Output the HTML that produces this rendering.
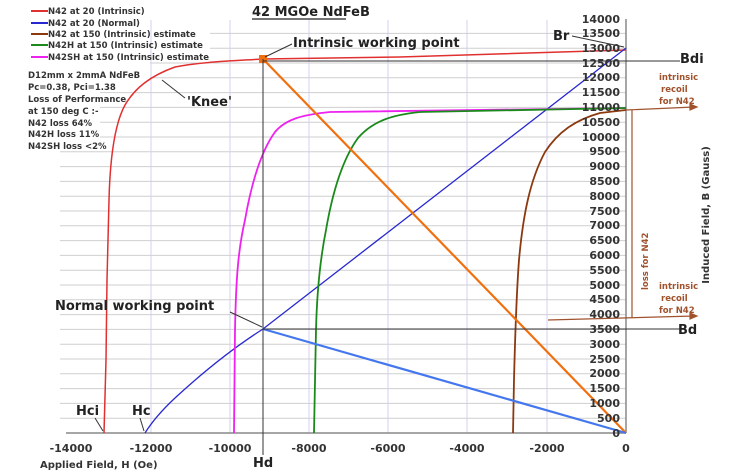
<!DOCTYPE html>
<html><head><meta charset="utf-8"><style>
body{margin:0;background:#fff}
svg{display:block;font-family:"Liberation Sans",sans-serif}
.t{font-family:Verdana,"DejaVu Sans",sans-serif;font-weight:bold}
</style></head><body>
<svg width="733" height="475" viewBox="0 0 733 475" xmlns="http://www.w3.org/2000/svg">
<g stroke="#cfcfcf" stroke-width="1">
<line x1="60" y1="418.2" x2="626" y2="418.2"/><line x1="60" y1="403.4" x2="626" y2="403.4"/><line x1="60" y1="388.6" x2="626" y2="388.6"/><line x1="60" y1="373.8" x2="626" y2="373.8"/><line x1="60" y1="359" x2="626" y2="359"/><line x1="60" y1="344.2" x2="626" y2="344.2"/><line x1="60" y1="329.4" x2="626" y2="329.4"/><line x1="60" y1="314.6" x2="626" y2="314.6"/><line x1="60" y1="299.8" x2="626" y2="299.8"/><line x1="60" y1="285" x2="626" y2="285"/><line x1="60" y1="270.2" x2="626" y2="270.2"/><line x1="60" y1="255.4" x2="626" y2="255.4"/><line x1="60" y1="240.6" x2="626" y2="240.6"/><line x1="60" y1="225.8" x2="626" y2="225.8"/><line x1="60" y1="211" x2="626" y2="211"/><line x1="60" y1="196.2" x2="626" y2="196.2"/><line x1="60" y1="181.4" x2="626" y2="181.4"/><line x1="60" y1="166.6" x2="626" y2="166.6"/><line x1="60" y1="151.8" x2="626" y2="151.8"/><line x1="100" y1="137" x2="626" y2="137"/><line x1="100" y1="122.2" x2="626" y2="122.2"/><line x1="100" y1="107.4" x2="626" y2="107.4"/><line x1="100" y1="92.6" x2="626" y2="92.6"/><line x1="150" y1="77.8" x2="626" y2="77.8"/><line x1="150" y1="63" x2="626" y2="63"/><line x1="210" y1="48.2" x2="626" y2="48.2"/><line x1="210" y1="33.4" x2="626" y2="33.4"/>
</g>
<g stroke="#d4d0f0" stroke-width="1">
<line x1="151" y1="20" x2="151" y2="433"/><line x1="230" y1="20" x2="230" y2="433"/><line x1="309" y1="20" x2="309" y2="433"/><line x1="388" y1="20" x2="388" y2="433"/><line x1="467" y1="20" x2="467" y2="433"/><line x1="547" y1="20" x2="547" y2="433"/>
</g>
<line x1="66" y1="433" x2="626" y2="433" stroke="#888" stroke-width="1.5"/>
<line x1="626" y1="19" x2="626" y2="433" stroke="#888" stroke-width="1.5"/>
<path d="M104,433 L106,360 L107,280 L109,200 C110,160 114,125 125,105 C135,88 150,76 175,67 C200,62 230,61 263,59 L400,57 L626,50" fill="none" stroke="#e03030" stroke-width="1.5"/>
<path d="M145,433 C150,425 160,412 175,398 C200,375 230,350 263,329 L626,48" fill="none" stroke="#2828d0" stroke-width="1.3"/>
<path d="M234,433 L235,330 C236,280 238,250 245,220 C252,180 262,150 275,132 C285,120 300,115 330,112 L626,108" fill="none" stroke="#ee22ee" stroke-width="1.8"/>
<path d="M314,433 L316,330 C317,290 320,260 326,230 C332,195 342,160 358,138 C372,122 390,115 420,112 L626,108" fill="none" stroke="#1a8a1a" stroke-width="1.8"/>
<path d="M513,433 L514,380 C515,340 516,300 519,260 C523,215 530,180 545,152 C558,132 575,120 600,113 L626,110" fill="none" stroke="#8b3a10" stroke-width="1.8"/>
<line x1="626" y1="433" x2="263" y2="59" stroke="#f07010" stroke-width="2.2"/>
<line x1="263" y1="329" x2="626" y2="433" stroke="#4477ee" stroke-width="2.2"/>
<rect x="259" y="55" width="8" height="8" fill="#f07010"/>
<line x1="263" y1="59" x2="263" y2="433" stroke="#333" stroke-width="1"/>
<line x1="263" y1="329" x2="680" y2="329" stroke="#333" stroke-width="1"/>
<line x1="263" y1="61" x2="680" y2="61" stroke="#333" stroke-width="1"/>
<line x1="263" y1="433" x2="263" y2="455" stroke="#333"/>
<g stroke="#a0522d" stroke-width="1.2" fill="#a0522d">
<line x1="626" y1="110" x2="694" y2="107"/><polygon points="697,107 690,104 690,110"/>
<line x1="632" y1="110" x2="632" y2="318"/>
<line x1="548" y1="320" x2="694" y2="316"/><polygon points="697,316 690,313 690,319"/>
</g>
<g fill="#a0522d" font-size="8.5" class="t" font-weight="bold">
<text x="659" y="80">intrinsic</text><text x="661" y="92">recoil</text><text x="659" y="104">for N42</text>
<text x="659" y="289">intrinsic</text><text x="661" y="301">recoil</text><text x="659" y="313">for N42</text>
<text transform="translate(648,290) rotate(-90)">loss for N42</text>
</g>
<g stroke="#333" stroke-width="1" fill="none">
<line x1="572" y1="36" x2="624" y2="47"/><line x1="265" y1="57" x2="292" y2="44"/>
<line x1="262" y1="327" x2="230" y2="312"/><line x1="95" y1="418" x2="103" y2="431"/><line x1="140" y1="418" x2="144" y2="431"/>
<line x1="162" y1="80" x2="185" y2="98"/>
</g>
<g font-size="11" class="t" text-anchor="end" fill="#333">
<text x="620" y="437">0</text><text x="620" y="422">500</text><text x="620" y="407">1000</text><text x="620" y="392">1500</text><text x="620" y="377">2000</text><text x="620" y="363">2500</text><text x="620" y="348">3000</text><text x="620" y="333">3500</text><text x="620" y="318">4000</text><text x="620" y="303">4500</text><text x="620" y="289">5000</text><text x="620" y="274">5500</text><text x="620" y="259">6000</text><text x="620" y="244">6500</text><text x="620" y="229">7000</text><text x="620" y="215">7500</text><text x="620" y="200">8000</text><text x="620" y="185">8500</text><text x="620" y="170">9000</text><text x="620" y="155">9500</text><text x="620" y="141">10000</text><text x="620" y="126">10500</text><text x="620" y="111">11000</text><text x="620" y="96">11500</text><text x="620" y="81">12000</text><text x="620" y="67">12500</text><text x="620" y="52">13000</text><text x="620" y="37">13500</text><text x="620" y="23">14000</text>
</g>
<g font-size="11" class="t" text-anchor="middle" fill="#333">
<text x="71" y="452">-14000</text><text x="151" y="452">-12000</text><text x="230" y="452">-10000</text><text x="309" y="452">-8000</text><text x="388" y="452">-6000</text><text x="467" y="452">-4000</text><text x="547" y="452">-2000</text><text x="626" y="452">0</text>
</g>
<text x="40" y="468" font-size="10" class="t" fill="#333">Applied Field, H (Oe)</text>
<text transform="translate(709,215) rotate(-90)" font-size="10" class="t" text-anchor="middle" fill="#333">Induced Field, B (Gauss)</text>
<text x="252" y="16" font-size="13" class="t" fill="#222">42 MGOe NdFeB</text>
<line x1="252" y1="19" x2="346" y2="19" stroke="#222" stroke-width="1.2"/>
<g font-size="13" class="t" fill="#222">
<text x="293" y="47">Intrinsic working point</text>
<text x="55" y="310">Normal working point</text>
<text x="76" y="415">Hci</text><text x="132" y="415">Hc</text>
<text x="253" y="467">Hd</text><text x="678" y="334">Bd</text><text x="680" y="63">Bdi</text><text x="553" y="40">Br</text>
<text x="187" y="106">'Knee'</text>
</g>
<g stroke-width="2">
<line x1="31" y1="11" x2="48" y2="11" stroke="#e03030"/>
<line x1="31" y1="23" x2="48" y2="23" stroke="#2828d0"/>
<line x1="31" y1="34" x2="48" y2="34" stroke="#8b3a10"/>
<line x1="31" y1="45" x2="48" y2="45" stroke="#1a8a1a"/>
<line x1="31" y1="57" x2="48" y2="57" stroke="#ee22ee"/>
</g>
<g font-size="8.5" class="t" fill="#333">
<text x="48" y="14">N42 at 20 (Intrinsic)</text>
<text x="48" y="26">N42 at 20 (Normal)</text>
<text x="48" y="37">N42 at 150 (Intrinsic) estimate</text>
<text x="48" y="48">N42H at 150 (Intrinsic) estimate</text>
<text x="48" y="60">N42SH at 150 (Intrinsic) estimate</text>
<text x="28" y="78">D12mm x 2mmA NdFeB</text>
<text x="28" y="90">Pc=0.38, Pci=1.38</text>
<text x="28" y="102">Loss of Performance</text>
<text x="28" y="114">at 150 deg C :-</text>
<text x="28" y="126">N42 loss 64%</text>
<text x="28" y="137">N42H loss 11%</text>
<text x="28" y="149">N42SH loss &lt;2%</text>
</g>
</svg>
</body></html>
